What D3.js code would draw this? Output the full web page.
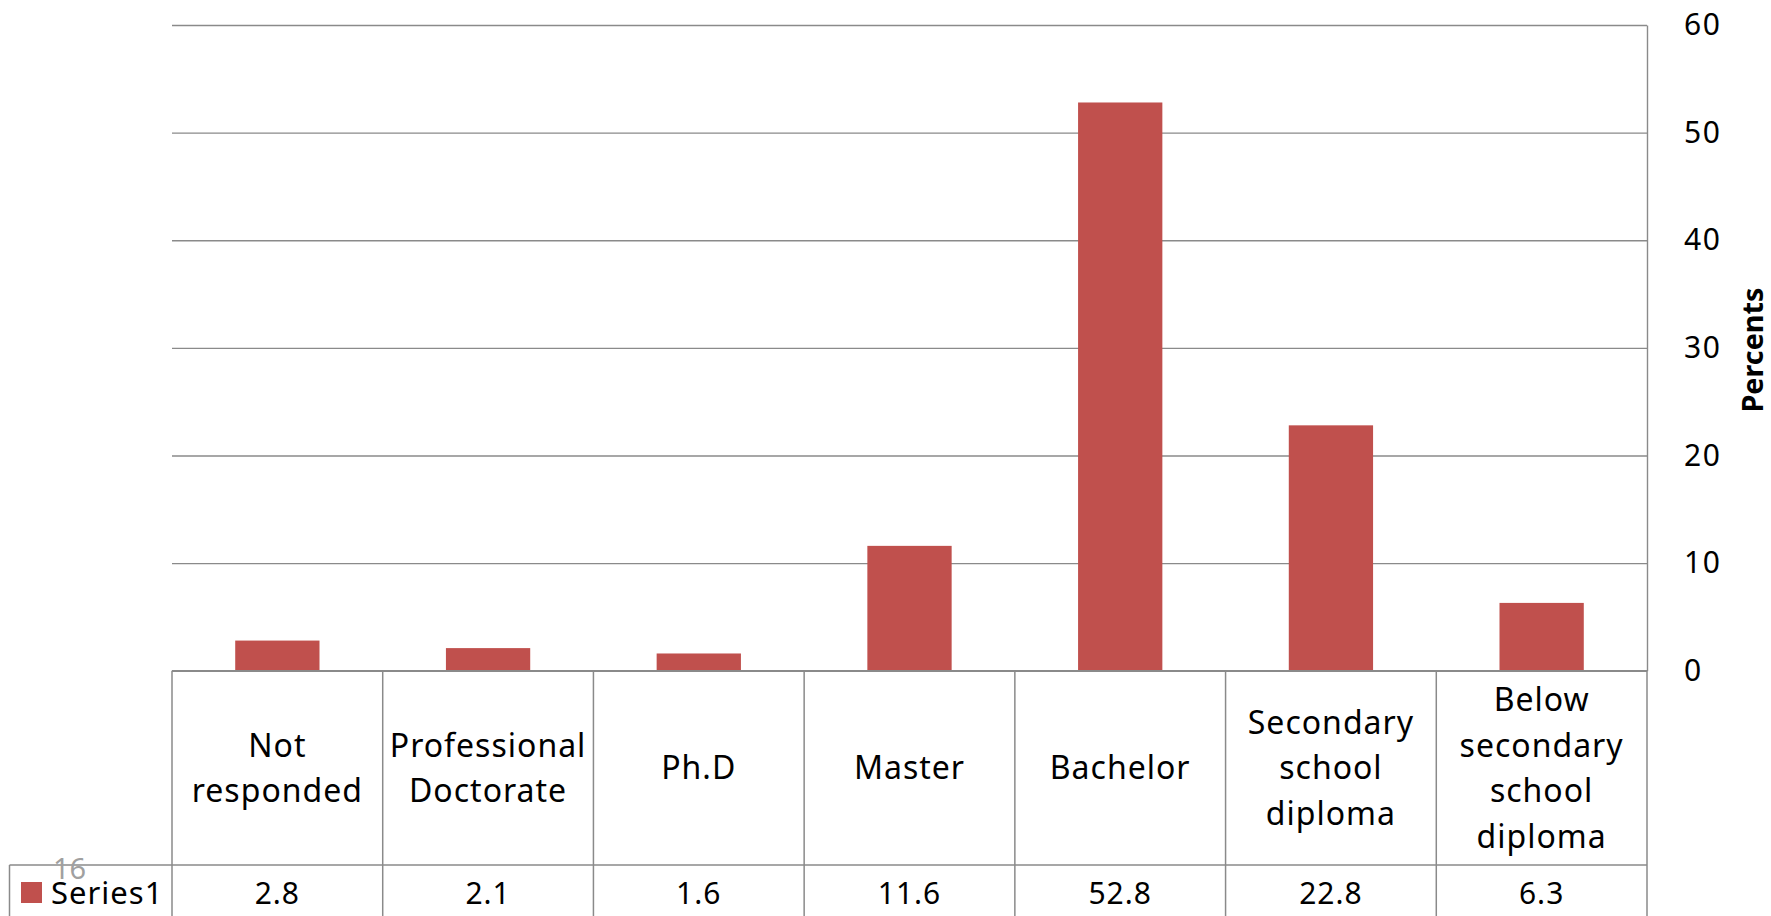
<!DOCTYPE html>
<html>
<head>
<meta charset="utf-8">
<script src="https://cdn.jsdelivr.net/npm/d3@7"></script>
<style>
  html, body { margin: 0; padding: 0; background: #fff; }
  svg { display: block; }
  text { font-family: "Noto Sans", "Open Sans", sans-serif; }
</style>
</head>
<body>
<script>
// Education level of respondents (percent)
const categories = ["Not responded", "Professional Doctorate", "Ph.D", "Master",
  "Bachelor", "Secondary school diploma", "Below secondary school diploma"];
const categoryLines = [["Not", "responded"], ["Professional", "Doctorate"], ["Ph.D"],
  ["Master"], ["Bachelor"], ["Secondary", "school", "diploma"],
  ["Below", "secondary", "school", "diploma"]];
const values = [2.8, 2.1, 1.6, 11.6, 52.8, 22.8, 6.3];
const yTicks = [0, 10, 20, 30, 40, 50, 60];
const seriesName = "Series1";
const axisTitle = "Percents";
const pageNumber = "16";

const W = 1771, H = 916;
const plotLeft = 172, plotRight = 1647, plotTop = 25, plotBase = 670.7;
const headerBottom = 865, tableBottom = H + 10, legendLeft = 9.5;
const lineColor = "#8a8a8a", barColor = "#C0504D";

const svg = d3.select("body").append("svg").attr("width", W).attr("height", H);

const y = d3.scaleLinear().domain([0, 60]).range([plotBase, plotTop]);
const x = d3.scaleBand().domain(categories).range([plotLeft, plotRight])
  .paddingInner(0.6).paddingOuter(0.3);
const step = x.step();

// value axis on the right, with gridlines across the plot
const yAxis = svg.append("g")
  .attr("transform", `translate(${plotRight},0)`)
  .call(d3.axisRight(y).tickValues(yTicks).tickSize(-(plotRight - plotLeft))
    .tickSizeOuter(0).tickPadding(37));
yAxis.selectAll("line").attr("stroke", lineColor).attr("stroke-width", 1.4);
yAxis.select(".domain").attr("stroke", lineColor).attr("stroke-width", 1.4);
yAxis.selectAll("text").attr("font-size", 30).attr("fill", "#000")
  .attr("letter-spacing", 1.5).style("font-family", '"Noto Sans", sans-serif');

svg.append("text")
  .attr("transform", `translate(1763,350) rotate(-90)`)
  .attr("text-anchor", "middle")
  .attr("font-size", 29).attr("font-weight", "bold")
  .attr("textLength", 125).attr("lengthAdjust", "spacingAndGlyphs")
  .text(axisTitle);

// bars
svg.append("g").selectAll("rect").data(values).join("rect")
  .attr("x", (d, i) => x(categories[i]))
  .attr("width", x.bandwidth())
  .attr("y", d => y(d))
  .attr("height", d => y(0) - y(d))
  .attr("fill", barColor);

// data table grid
const grid = svg.append("g").attr("stroke", lineColor).attr("stroke-width", 1.5);
grid.append("line").attr("x1", plotLeft).attr("x2", plotRight)
  .attr("y1", plotBase).attr("y2", plotBase);
grid.append("line").attr("x1", legendLeft).attr("x2", plotRight)
  .attr("y1", headerBottom).attr("y2", headerBottom);
grid.append("line").attr("x1", legendLeft).attr("x2", legendLeft)
  .attr("y1", headerBottom).attr("y2", tableBottom);
grid.selectAll("line.col").data(d3.range(categories.length + 1)).join("line")
  .attr("class", "col")
  .attr("x1", i => plotLeft + i * step).attr("x2", i => plotLeft + i * step)
  .attr("y1", plotBase).attr("y2", tableBottom);

// category labels in the header row
const headerMid = (plotBase + headerBottom) / 2 + 11.5;
const lineGap = 45.5;
svg.append("g").selectAll("text").data(categories).join("text")
  .attr("text-anchor", "middle")
  .attr("font-size", 32).attr("letter-spacing", 1)
  .attr("fill", "#000")
  .each(function (c, i) {
    const lines = categoryLines[i];
    const cx = x(c) + x.bandwidth() / 2;
    const y0 = headerMid - (lines.length - 1) * lineGap / 2;
    d3.select(this).selectAll("tspan").data(lines).join("tspan")
      .attr("x", cx).attr("y", (l, k) => y0 + k * lineGap).text(l => l);
  });

// value row
svg.append("g").selectAll("text").data(values).join("text")
  .attr("x", (d, i) => x(categories[i]) + x.bandwidth() / 2)
  .attr("y", 904)
  .attr("text-anchor", "middle")
  .attr("font-size", 30).attr("letter-spacing", 1)
  .attr("fill", "#000")
  .text(d => d3.format(".1f")(d));

// legend key, with the slide's page number sitting above it
svg.append("rect").attr("x", 21).attr("y", 882).attr("width", 21).attr("height", 21)
  .attr("fill", barColor);
svg.append("text").attr("x", 53).attr("y", 879)
  .attr("font-size", 29).attr("fill", "#a0a0a0").text(pageNumber);
svg.append("text").attr("x", 51).attr("y", 904)
  .attr("font-size", 31).attr("letter-spacing", 1).attr("fill", "#000")
  .text(seriesName);
</script>
</body>
</html>
